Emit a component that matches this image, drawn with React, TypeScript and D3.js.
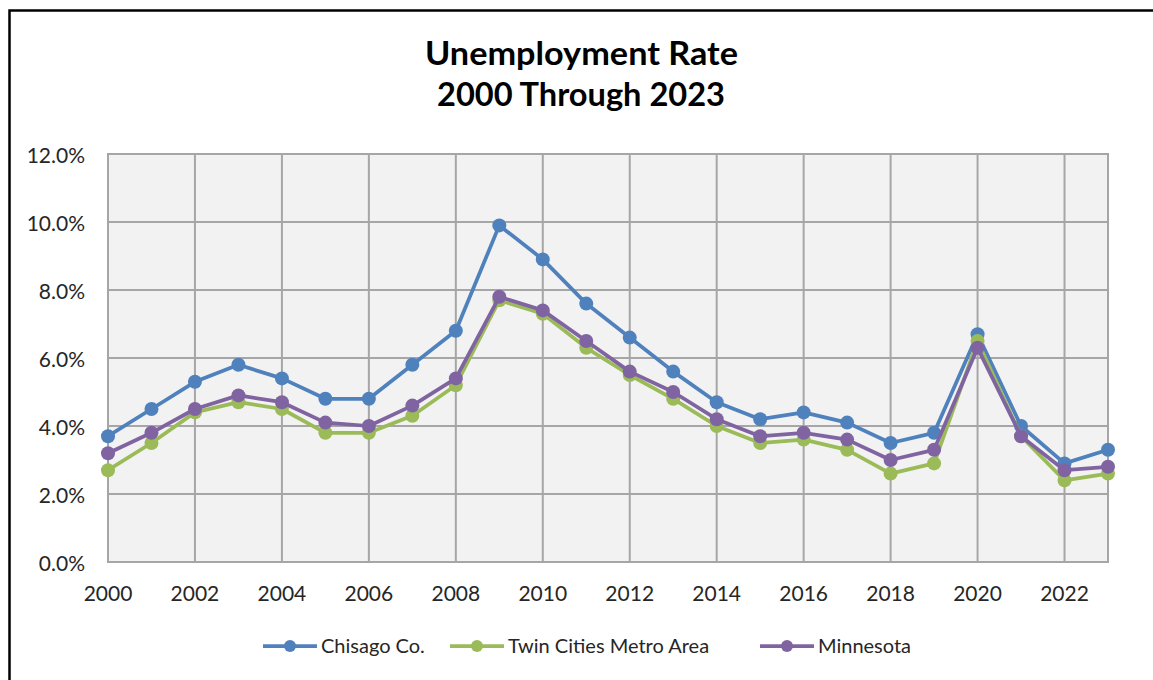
import React from "react";
import * as d3 from "d3";

const years = [2000, 2001, 2002, 2003, 2004, 2005, 2006, 2007, 2008, 2009, 2010, 2011, 2012, 2013, 2014, 2015, 2016, 2017, 2018, 2019, 2020, 2021, 2022, 2023];
const chisago = [3.7, 4.5, 5.3, 5.8, 5.4, 4.8, 4.8, 5.8, 6.8, 9.9, 8.9, 7.6, 6.6, 5.6, 4.7, 4.2, 4.4, 4.1, 3.5, 3.8, 6.7, 4.0, 2.9, 3.3];
const twinCities = [2.7, 3.5, 4.4, 4.7, 4.5, 3.8, 3.8, 4.3, 5.2, 7.7, 7.3, 6.3, 5.5, 4.8, 4.0, 3.5, 3.6, 3.3, 2.6, 2.9, 6.5, 3.7, 2.4, 2.6];
const minnesota = [3.2, 3.8, 4.5, 4.9, 4.7, 4.1, 4.0, 4.6, 5.4, 7.8, 7.4, 6.5, 5.6, 5.0, 4.2, 3.7, 3.8, 3.6, 3.0, 3.3, 6.3, 3.7, 2.7, 2.8];
const yTicks = [0, 2, 4, 6, 8, 10, 12];
const xTickYears = [2000, 2002, 2004, 2006, 2008, 2010, 2012, 2014, 2016, 2018, 2020, 2022];
const titleLines = ["Unemployment Rate", "2000 Through 2023"];

const series = [
  { name: "Chisago Co.", values: chisago, color: "#4f81bd", legendX: 263 },
  { name: "Twin Cities Metro Area", values: twinCities, color: "#9bbb59", legendX: 450 },
  { name: "Minnesota", values: minnesota, color: "#8064a2", legendX: 760 },
];

const W = 1153;
const H = 680;
const plot = { left: 108, right: 1108, top: 154, bottom: 562 };
const FONT = "Lato, 'Open Sans', sans-serif";
const TEXT = "#262626";

export default function App() {
  const x = d3.scaleLinear().domain([2000, 2023]).range([plot.left, plot.right]);
  const y = d3.scaleLinear().domain([0, 12]).range([plot.bottom, plot.top]);
  const line = d3
    .line<number>()
    .x((_, i) => x(years[i]))
    .y((d) => y(d));

  return (
    <svg
      width={W}
      height={H}
      style={{ position: "absolute", left: 0, top: 0, background: "#fff" }}
      fontFamily={FONT}
    >
      <rect x={0} y={0} width={W} height={H} fill="#fff" />
      <rect x={9.5} y={10.5} width={W + 20} height={H + 20} fill="none" stroke="#000" strokeWidth={2.5} />

      {/* title */}
      <text x={425} y={65} fontSize={32} fontWeight={700} fill="#000" textLength={313} lengthAdjust="spacingAndGlyphs">
        {titleLines[0]}
      </text>
      <text x={437} y={106} fontSize={32} fontWeight={700} fill="#000" textLength={288} lengthAdjust="spacingAndGlyphs">
        {titleLines[1]}
      </text>

      {/* plot background */}
      <rect
        x={plot.left}
        y={plot.top}
        width={plot.right - plot.left}
        height={plot.bottom - plot.top}
        fill="#f2f2f2"
      />
      {/* horizontal grid */}
      {yTicks.map((t) => (
        <line key={"h" + t} x1={plot.left} x2={plot.right} y1={y(t)} y2={y(t)} stroke="#a6a6a6" strokeWidth={2} />
      ))}
      {/* vertical grid */}
      {xTickYears.map((t) => (
        <line key={"v" + t} x1={x(t)} x2={x(t)} y1={plot.top} y2={plot.bottom} stroke="#a6a6a6" strokeWidth={2} />
      ))}
      <rect
        x={plot.left}
        y={plot.top}
        width={plot.right - plot.left}
        height={plot.bottom - plot.top}
        fill="none"
        stroke="#a6a6a6"
        strokeWidth={2}
      />

      {/* y labels */}
      {yTicks.map((t) => (
        <text key={"yl" + t} x={85} y={y(t) + 2} dy="0.35em" textAnchor="end" fontSize={21} fill={TEXT}>
          {d3.format(".1f")(t) + "%"}
        </text>
      ))}
      {/* x labels */}
      {xTickYears.map((t) => (
        <text key={"xl" + t} x={x(t)} y={601} textAnchor="middle" fontSize={21} fill={TEXT}>
          {t}
        </text>
      ))}

      {/* series */}
      {series.map((s) => (
        <g key={s.name}>
          <path d={line(s.values) || ""} fill="none" stroke={s.color} strokeWidth={3.75} strokeLinejoin="round" />
          {s.values.map((v, i) => (
            <circle key={i} cx={x(years[i])} cy={y(v)} r={7} fill={s.color} />
          ))}
        </g>
      ))}

      {/* legend */}
      {series.map((s) => (
        <g key={"lg" + s.name}>
          <line x1={s.legendX} x2={s.legendX + 54} y1={646} y2={646} stroke={s.color} strokeWidth={3.75} />
          <circle cx={s.legendX + 27} cy={646} r={6} fill={s.color} />
          <text x={s.legendX + 58} y={653} fontSize={20} fill={TEXT}>
            {s.name}
          </text>
        </g>
      ))}
    </svg>
  );
}
